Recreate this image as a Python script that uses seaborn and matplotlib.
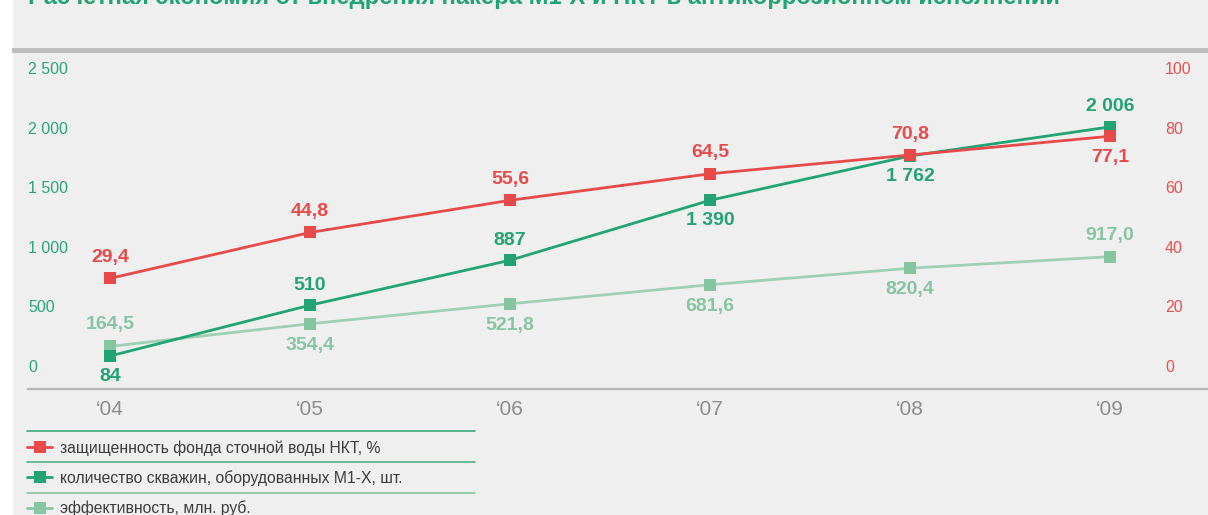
import numpy as np
import pandas as pd
import matplotlib.pyplot as plt
import seaborn as sns
from matplotlib.lines import Line2D
from matplotlib.patches import Rectangle

# Data
years = ["‘04", "‘05", "‘06", "‘07", "‘08", "‘09"]
protection_pct = [29.4, 44.8, 55.6, 64.5, 70.8, 77.1]
wells = [84, 510, 887, 1390, 1762, 2006]
efficiency = [164.5, 354.4, 521.8, 681.6, 820.4, 917.0]

left_ticks = [0, 500, 1000, 1500, 2000, 2500]
right_ticks = [0, 20, 40, 60, 80, 100]

title = "Расчетная экономия от внедрения пакера М1-Х и НКТ в антикоррозионном исполнении"
labels = ["защищенность фонда сточной воды НКТ, %",
          "количество скважин, оборудованных М1-Х, шт.",
          "эффективность, млн. руб."]

RED = "#e84a4a"
GREEN = "#21a373"
LIGHT = "#86c5a2"
BG = "#efefef"

sns.set_style("white")
plt.rcParams['font.family'] = ['Liberation Sans', 'DejaVu Sans']

df = pd.DataFrame({"x": np.arange(len(years)), "pct": protection_pct,
                   "wells": wells, "eff": efficiency})

W, H = 1208, 515
fig = plt.figure(figsize=(W / 100, H / 100), dpi=100, facecolor="white")
fig.add_artist(Rectangle((13 / W, 0), 1, 1, transform=fig.transFigure,
                         facecolor=BG, edgecolor="none", zorder=-10))
fig.add_artist(Rectangle((12 / W, 1 - 53 / H), 1, 5 / H, transform=fig.transFigure,
                         facecolor="#bdbdbd", edgecolor="none"))
fig.text(28 / W, 1 - 4 / H, title, color=GREEN, fontsize=17.1, fontweight="bold",
         va="baseline", ha="left")

# axes: from x=28 to right edge, from x-axis line (389) to 53
ax = fig.add_axes([28 / W, 1 - 389 / H, (W - 28) / W, (389 - 53) / H])
ax.set_facecolor("none")
ax2 = ax.twinx()

px = 2500 / (366 - 68)  # data units per pixel on left axis
ax.set_ylim(-(389 - 366) * px, 2500 + (68 - 53) * px)
ax2.set_ylim(ax.get_ylim()[0] / 25, ax.get_ylim()[1] / 25)
ax.set_xlim(-(110 - 28) / 200, (W - 110) / 200)

line_kw = dict(marker="s", markersize=9, markeredgewidth=0, linewidth=2.0)
sns.lineplot(data=df, x="x", y="eff", ax=ax, color=LIGHT, **line_kw)
sns.lineplot(data=df, x="x", y="wells", ax=ax, color=GREEN, **line_kw)
sns.lineplot(data=df, x="x", y="pct", ax=ax2, color=RED, **line_kw)
ax.lines[0].set_color("#9fd0b3")
ax.lines[0].set_markerfacecolor(LIGHT)


def dec(v):
    return f"{v:.1f}".replace(".", ",")


def thousands(v):
    return f"{v:,}".replace(",", " ")


lab_kw = dict(textcoords="offset points", ha="center", va="center",
              fontsize=14, fontweight="bold")
red_pos = [1, 1, 1, 1, 1, -1]
green_pos = [-1, 1, 1, -1, -1, 1]
light_pos = [1, -1, -1, -1, -1, 1]
for i in range(len(years)):
    ax2.annotate(dec(protection_pct[i]), (i, protection_pct[i]), xytext=(0, 15 * red_pos[i]),
                 color=RED, **lab_kw)
    ax.annotate(thousands(wells[i]), (i, wells[i]), xytext=(0, 14.5 * green_pos[i]),
                color=GREEN, **lab_kw)
    ax.annotate(dec(efficiency[i]), (i, efficiency[i]), xytext=(0, 15.5 * light_pos[i]),
                color=LIGHT, **lab_kw)

# ticks
ax.set_xticks(range(len(years)))
ax.set_xticklabels(years)
ax.tick_params(axis="x", length=0, pad=8, labelsize=15, labelcolor="#8c8c8c")
ax.set_yticks(left_ticks)
ax.set_yticklabels([thousands(v) for v in left_ticks])
ax.tick_params(axis="y", length=0, pad=0, labelsize=11.5, labelcolor="#2aa57a")
for t in ax.get_yticklabels():
    t.set_ha("left")
ax2.set_yticks(right_ticks)
ax2.tick_params(axis="y", length=0, pad=-31, labelsize=11.5, labelcolor="#e8504f")
ax.set_xlabel("")
ax.set_ylabel("")
ax2.set_ylabel("")
for a in (ax, ax2):
    for s in ["top", "left", "right", "bottom"]:
        a.spines[s].set_visible(False)
ax.spines["bottom"].set_visible(True)
ax.spines["bottom"].set_color("#b5b5b5")
ax.spines["bottom"].set_linewidth(1.6)

# legend
handles = [Line2D([], [], color=c, marker="s", markersize=8, markeredgewidth=0, linewidth=2.0)
           for c in (RED, GREEN, LIGHT)]
fig.legend(handles, labels, loc="upper left", bbox_to_anchor=(27 / W, 1 - 440 / H),
           frameon=False, fontsize=11.3, labelcolor="#3c3c3c", handlelength=1.6,
           handletextpad=0.5, labelspacing=0.92, borderpad=0, borderaxespad=0)
for yy, c in zip([431, 462, 493], ["#3aa97a", "#4fb184", "#86c5a2"]):
    fig.add_artist(Line2D([27 / W, 475 / W], [1 - yy / H] * 2, transform=fig.transFigure,
                          color=c, linewidth=1.2))

fig.savefig("out.png", dpi=100, facecolor=fig.get_facecolor())
